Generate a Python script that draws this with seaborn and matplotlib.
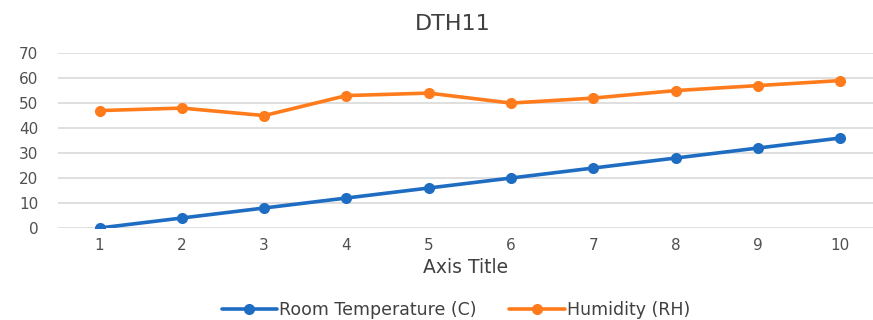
import matplotlib
matplotlib.use("Agg")
import matplotlib.pyplot as plt
import seaborn as sns
import pandas as pd

x_vals = [1, 2, 3, 4, 5, 6, 7, 8, 9, 10]
temperature = [0, 4, 8, 12, 16, 20, 24, 28, 32, 36]
humidity = [47, 48, 45, 53, 54, 50, 52, 55, 57, 59]
series_names = ["Room Temperature (C)", "Humidity (RH)"]
y_ticks = [0, 10, 20, 30, 40, 50, 60, 70]

df = pd.DataFrame({
    "x": x_vals * 2,
    "value": temperature + humidity,
    "series": [series_names[0]] * len(x_vals) + [series_names[1]] * len(x_vals),
})

sns.set_theme(style="white")
plt.rcParams['font.family'] = ['DejaVu Sans']

fig = plt.figure(figsize=(8.73, 3.20), dpi=100)
ax = fig.add_axes([0.066, 0.2875, 0.934, 0.5465])

palette = {series_names[0]: "#1f6dc2", series_names[1]: "#ff7b1c"}
sns.lineplot(data=df, x="x", y="value", hue="series", palette=palette,
             marker="o", markersize=8, markeredgewidth=0, linewidth=2.6,
             ax=ax, legend=True)

ax.set_xlim(0.49, 10.4)
ax.set_ylim(0, 70)
ax.set_yticks(y_ticks)
ax.set_xticks(x_vals)
ax.grid(axis="y", color="#d9d9d9", linewidth=1.2)
ax.set_axisbelow(True)
for s in ax.spines.values():
    s.set_visible(False)
ax.tick_params(axis="both", length=0, labelsize=11, colors="#505050")
ax.tick_params(axis="y", pad=14)
ax.tick_params(axis="x", pad=7)
ax.set_ylabel("")
ax.set_xlabel("Axis Title", fontsize=13.5, color="#404040", labelpad=4)
ax.set_title("DTH11", fontsize=16, color="#404040", pad=17, x=0.485)

handles, labels = ax.get_legend_handles_labels()
ax.legend(handles, labels, loc="center", bbox_to_anchor=(0.522, 0.03),
          bbox_transform=fig.transFigure, ncol=2, frameon=False,
          fontsize=12.5, labelcolor="#404040", handlelength=3.2,
          handletextpad=0.1, columnspacing=1.9)

fig.savefig("out.png", dpi=100)
